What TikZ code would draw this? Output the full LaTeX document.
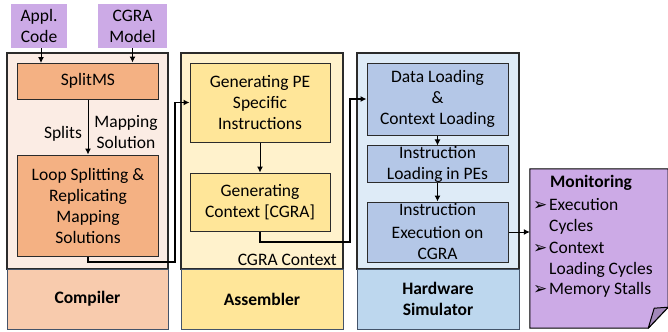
\documentclass[tikz,border=0pt]{standalone}
\usepackage{fontspec}
\setmainfont{Carlito}
\newfontfamily\symfont{DejaVu Sans}
\usetikzlibrary{arrows.meta,calc}

\definecolor{inpurple}{RGB}{204,170,230}
\definecolor{foldpurple}{RGB}{163,136,186}
\definecolor{compbg}{HTML}{FBECE4}
\definecolor{compbox}{HTML}{F4B183}
\definecolor{complabel}{HTML}{F8CBAD}
\definecolor{asmbg}{HTML}{FFF2CC}
\definecolor{asmbox}{HTML}{FFE699}
\definecolor{asmlabel}{HTML}{FFE699}
\definecolor{hwbg}{HTML}{DEEBF7}
\definecolor{hwbox}{HTML}{B4C7E7}
\definecolor{hwlabel}{HTML}{BDD7EE}
\definecolor{framegray}{HTML}{2B2B2B}
\definecolor{labeledge}{HTML}{44546A}

% arrow-head bullet in a fixed-width slot
\newcommand{\bulletmark}{\makebox[16bp][l]{\symfont\fontsize{17bp}{17bp}\selectfont ➢}}

\tikzset{
  txt/.style={font=\fontsize{17.5bp}{21bp}\selectfont, align=center, inner sep=0pt},
  panel/.style={draw=framegray, line width=1.2bp, inner sep=0pt},
  panellabel/.style={draw=labeledge, line width=0.9bp, inner sep=0pt,
    font=\fontsize{17.5bp}{21bp}\selectfont\bfseries, align=center},
  stepbox/.style={draw=framegray, line width=1bp, inner sep=0pt,
    font=\fontsize{17.5bp}{21bp}\selectfont, align=center},
  inbox/.style={fill=inpurple, inner sep=0pt,
    font=\fontsize{17.5bp}{21bp}\selectfont, align=center},
  thinarrow/.style={line width=1bp, -{Latex[length=6bp,width=6bp]}},
  thickarrow/.style={line width=1.8bp, -{Latex[length=6bp,width=6bp]}},
}

\begin{document}
\begin{tikzpicture}[x=1bp,y=-1bp]
\useasboundingbox (0,0) rectangle (668,331);
\fill[white] (0,0) rectangle (668,331);

% input boxes
\node[inbox, minimum width=56bp, minimum height=44bp] (code) at (39,26) {Appl.\\Code};
\node[inbox, minimum width=69bp, minimum height=44bp] (model) at (132.5,26) {CGRA\\Model};

% panels
\node[panel, fill=compbg, minimum width=161bp, minimum height=216bp] (comp) at (87.5,161) {};
\node[panellabel, fill=complabel, minimum width=161bp, minimum height=60bp] (complab) at (87.5,299) {Compiler};
\node[panel, fill=asmbg, minimum width=162bp, minimum height=216bp] (asm) at (262,161) {};
\node[panellabel, fill=asmlabel, minimum width=162bp, minimum height=60bp] (asmlab) at (262,299) {Assembler};
\node[panel, fill=hwbg, minimum width=162bp, minimum height=216bp] (hw) at (438,161) {};
\node[panellabel, fill=hwlabel, minimum width=162bp, minimum height=60bp] (hwlab) at (438,299) {Hardware\\Simulator};

% compiler steps
\node[stepbox, fill=compbox, minimum width=140bp, minimum height=36bp] (split) at (88,81) {SplitMS};
\node[stepbox, fill=compbox, minimum width=140bp, minimum height=101bp] (loop) at (88,205.5)
  {Loop Splitting \&\\Replicating\\Mapping\\Solutions};
\node[txt] (splits) at (63,134) {Splits};
\node[txt] (mapsol) at (126,132) {Mapping\\Solution};

% assembler steps
\node[stepbox, fill=asmbox, minimum width=140bp, minimum height=79bp] (genpe) at (260,102.5)
  {Generating PE\\Specific\\Instructions};
\node[stepbox, fill=asmbox, minimum width=140bp, minimum height=58bp] (genctx) at (260,202)
  {Generating\\Context [CGRA]};
\node[txt, anchor=east] (ctxlab) at (337,260) {CGRA Context};

% hardware simulator steps
\node[stepbox, fill=hwbox, minimum width=141bp, minimum height=72bp] (data) at (437.5,99)
  {Data Loading\\\&\\Context Loading};
\node[stepbox, fill=hwbox, minimum width=141bp, minimum height=34bp] (iload) at (437.5,164)
  {Instruction\\Loading in PEs};
\node[stepbox, fill=hwbox, minimum width=141bp, minimum height=60bp] (iexec) at (437.5,232)
  {\raisebox{2bp}{Instruction}\\Execution on\\CGRA};

% monitoring note with folded corner
\node[minimum width=138bp, minimum height=159bp, inner sep=0pt] (mon) at (599,248.5) {};
\draw[line width=1bp, fill=inpurple]
  (mon.north west) -- (mon.north east) -- ($(mon.south east)+(0,-21)$)
  -- ($(mon.south east)+(-20,0)$) -- (mon.south west) -- cycle;
\draw[line width=1bp, fill=foldpurple, line join=round]
  ($(mon.south east)+(-20,0)$) -- ($(mon.south east)+(-14,-20)$)
  -- ($(mon.south east)+(0,-21)$) -- cycle;
\node[txt, font=\fontsize{17.5bp}{21bp}\selectfont\bfseries] (montitle) at (591,183) {Monitoring};
\node[txt, anchor=west] (m1) at (533,205) {\bulletmark Execution};
\node[txt, anchor=west] (m2) at (549,227) {Cycles};
\node[txt, anchor=west] (m3) at (533,248) {\bulletmark Context};
\node[txt, anchor=west] (m4) at (549,270) {Loading Cycles};
\node[txt, anchor=west] (m5) at (533,290) {\bulletmark Memory Stalls};

% connectors
\draw[thinarrow] (code.south -| 41,0) -- (41,63);
\draw[thinarrow] (model.south) -- (model.south |- split.north);
\draw[thinarrow] (split.south) -- (loop.north);
\draw[thinarrow] (genpe.south) -- (genctx.north);
\draw[thinarrow] (data.south) -- (iload.north);
\draw[thinarrow] (iload.south) -- (iexec.north);
\draw[thinarrow] (iexec.east) -- (iexec.east -| mon.west);

\coordinate (bendA) at (175,262);
\coordinate (bendB) at (350,242);
\draw[thickarrow] (loop.south) |- (bendA) |- (genpe.west);
\draw[thickarrow] (genctx.south) |- (bendB) |- (data.west);
\end{tikzpicture}
\end{document}
